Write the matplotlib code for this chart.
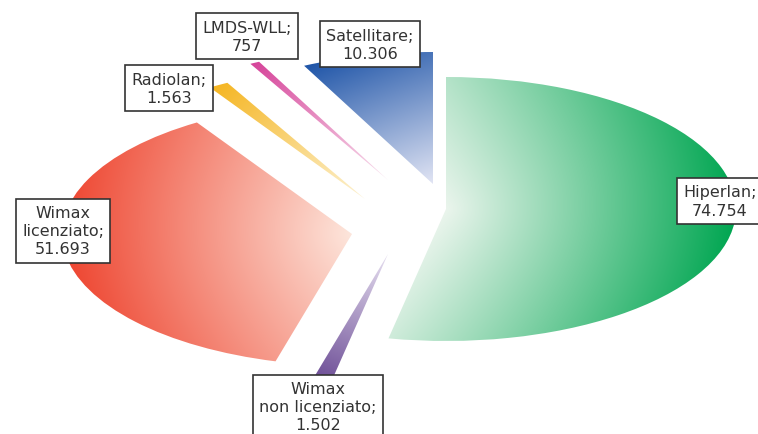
import numpy as np
import matplotlib
matplotlib.use("Agg")
import matplotlib.pyplot as plt
from matplotlib.colors import to_rgb

# installazioni per tecnologia
labels = ["Hiperlan", "Wimax\nnon licenziato", "Wimax\nlicenziato", "Radiolan", "LMDS-WLL", "Satellitare"]
values = [74754, 1502, 51693, 1563, 757, 10306]
value_text = ["74.754", "1.502", "51.693", "1.563", "757", "10.306"]
dark = ["#00a651", "#6a4a94", "#ee4530", "#f5b521", "#d6449a", "#1f55a8"]
light = ["#ebf5ed", "#e6dff0", "#fde6dc", "#fdf2d2", "#f9e1ee", "#e2e5f4"]

W, H = 758, 435
CX, CY = 400, 215   # centro della torta (px)
RX, RY = 290, 132   # raggio orizzontale / verticale (px)

# punta di ogni fetta dopo l'esplosione (px) e centro delle etichette (px)
tips = [(446, 210), (388, 255), (352, 235), (365, 200), (388, 181), (433, 185)]
label_pos = [(720, 202), (318, 408), (63, 232), (169, 89), (247, 37), (370, 45)]


def to_data(px, py):
    return (px - CX) / RX, (CY - py) / RY


fig = plt.figure(figsize=(W / 100, H / 100), dpi=100)
ax = fig.add_axes([0, 0, 1, 1])
wedges, _ = ax.pie(values, startangle=90, counterclock=False, radius=1,
                   wedgeprops=dict(facecolor="none", edgecolor="none"))

for i, w in enumerate(wedges):
    tx, ty = to_data(*tips[i])
    w.set_center((tx, ty))

    # sfumatura lungo l'asse della fetta: chiaro al centro, pieno sul bordo
    xs = np.linspace(tx - 1.02, tx + 1.02, 600)
    ys = np.linspace(ty - 1.02, ty + 1.02, 280)
    X, Y = np.meshgrid(xs, ys)
    m = np.radians((w.theta1 + w.theta2) / 2)
    d = np.array([RX * np.cos(m), RY * np.sin(m)])
    d /= np.linalg.norm(d)
    a = np.radians(np.linspace(w.theta1, w.theta2, 60))
    pmax = (RX * np.cos(a) * d[0] + RY * np.sin(a) * d[1]).max()
    proj = ((X - tx) * RX * d[0] + (Y - ty) * RY * d[1]) / pmax
    r = np.hypot(X - tx, Y - ty)
    t = np.clip(0.75 * proj + 0.25 * r, 0, 1)[..., None]
    c0 = np.array(to_rgb(light[i]))
    c1 = np.array(to_rgb(dark[i]))
    rgb = c0 + (c1 - c0) * t
    im = ax.imshow(rgb, extent=(xs[0], xs[-1], ys[0], ys[-1]), origin="lower",
                   interpolation="bilinear", aspect="auto", zorder=1)
    im.set_clip_path(w)

for i in range(len(values)):
    x, y = to_data(*label_pos[i])
    ax.text(x, y, f"{labels[i]};\n{value_text[i]}", ha="center", va="center",
            fontsize=11.5, color="#333333", linespacing=1.25, zorder=5,
            bbox=dict(boxstyle="square,pad=0.4", fc="white", ec="#333333", lw=1.2))

ax.set_aspect("auto")
ax.set_xlim(-CX / RX, (W - CX) / RX)
ax.set_ylim((CY - H) / RY, CY / RY)
ax.axis("off")

fig.savefig("out.png", dpi=100, facecolor="white")
